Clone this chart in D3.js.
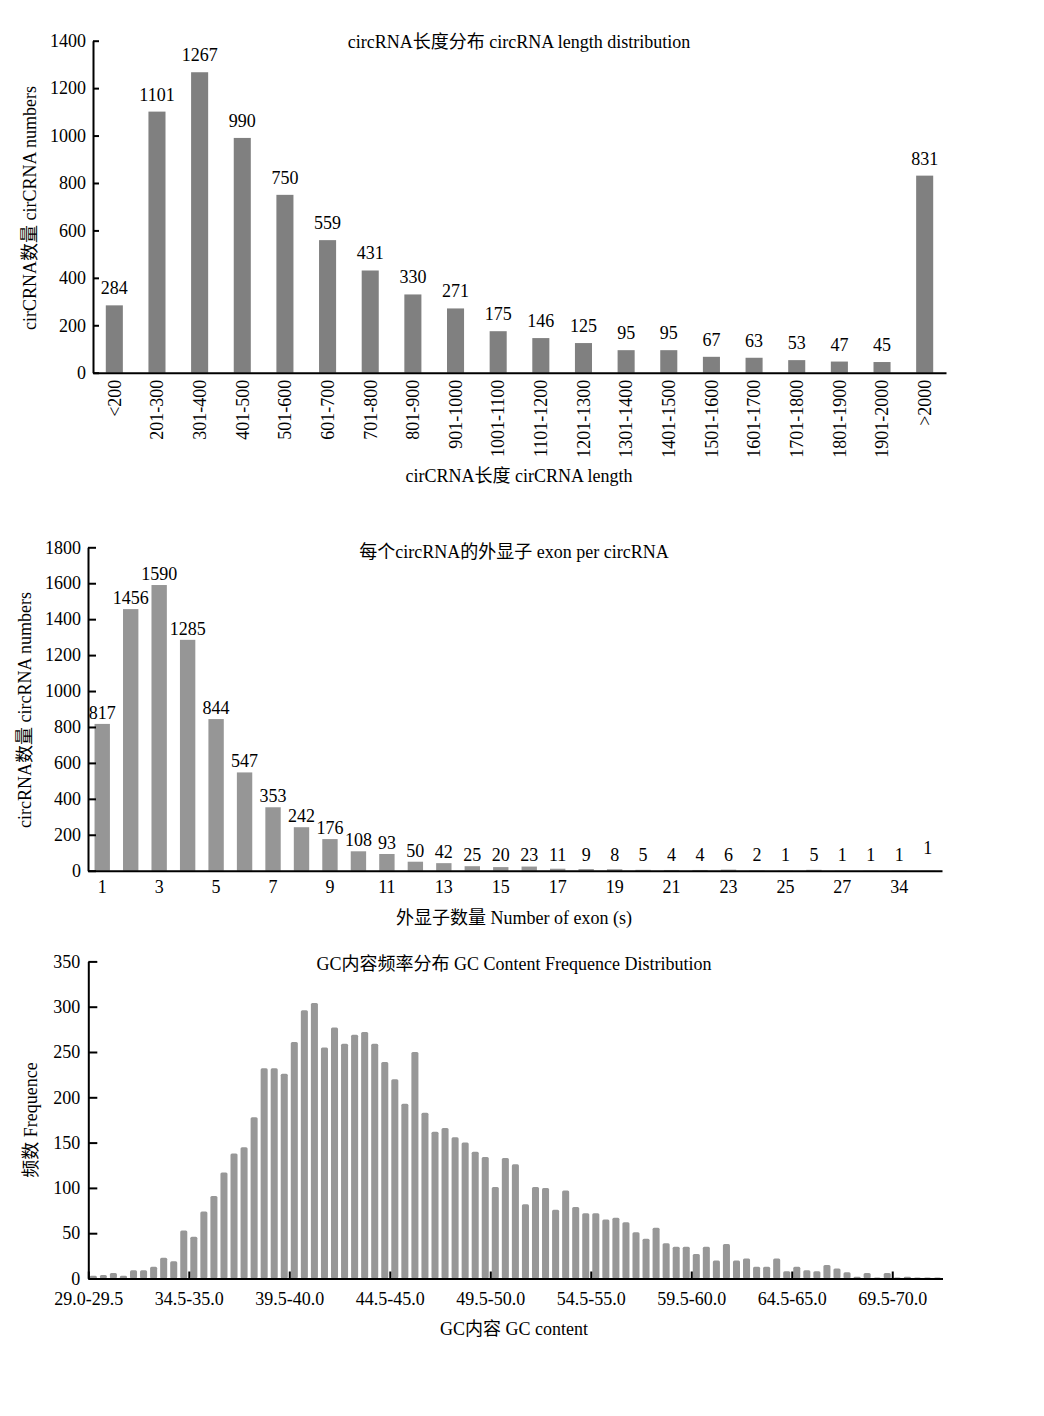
<!DOCTYPE html>
<html><head><meta charset="utf-8">
<script src="https://cdn.jsdelivr.net/npm/d3@7"></script>
<style>
body{margin:0;background:#fff}
text{font-family:"Liberation Serif","Noto Sans CJK SC",serif;fill:#000}
</style>
</head><body>
<svg id="c" width="1044" height="1416"></svg>
<script>
// ---------- data ----------
const lengthCategories = ["<200","201-300","301-400","401-500","501-600","601-700","701-800","801-900","901-1000","1001-1100","1101-1200","1201-1300","1301-1400","1401-1500","1501-1600","1601-1700","1701-1800","1801-1900","1901-2000",">2000"];
const lengthCounts = [284,1101,1267,990,750,559,431,330,271,175,146,125,95,95,67,63,53,47,45,831];
const lengthYTicks = [0,200,400,600,800,1000,1200,1400];

const exonCategories = ["1","2","3","4","5","6","7","8","9","10","11","12","13","14","15","16","17","18","19","20","21","22","23","24","25","26","27","28","34","35"];
const exonCounts = [817,1456,1590,1285,844,547,353,242,176,108,93,50,42,25,20,23,11,9,8,5,4,4,6,2,1,5,1,1,1,1];
const exonYTicks = [0,200,400,600,800,1000,1200,1400,1600,1800];

const gcCounts = [3,4,6,3,9,9,13,23,19,53,
  46,74,91,117,138,145,178,232,232,226,
  261,296,304,255,277,259,269,272,259,239,
  220,193,250,183,162,166,156,150,140,134,
  101,133,126,82,101,100,76,97,79,72,
  72,65,67,62,51,44,56,39,35,35,
  27,35,20,38,20,22,13,13,22,8,
  13,9,8,15,11,7,2,6,1,6,
  1,2,1,1,1];
const gcTickLabels = ["29.0-29.5","34.5-35.0","39.5-40.0","44.5-45.0","49.5-50.0","54.5-55.0","59.5-60.0","64.5-65.0","69.5-70.0"];
const gcYTicks = [0,50,100,150,200,250,300,350];

// ---------- drawing ----------
const svg = d3.select("#c");
svg.append("rect").attr("width",1044).attr("height",1416).attr("fill","#fff");
const FS = 18;

function yAxis(y, x0, ticks, tickLen, pad) {
  const g = svg.append("g").attr("transform", `translate(${x0},0)`)
    .call(d3.axisLeft(y).tickValues(ticks).tickFormat(d3.format("d"))
      .tickSize(-tickLen).tickSizeOuter(0).tickPadding(pad));
  g.select(".domain").attr("stroke","#000").attr("stroke-width",2);
  g.selectAll(".tick line").attr("stroke","#000").attr("stroke-width",2);
  g.selectAll(".tick text").attr("font-size",FS).attr("font-family",null);
  return g;
}
function label(txt, x, y, rot, size) {
  const t = svg.append("text").attr("text-anchor","middle").attr("font-size",size||FS)
    .attr("dominant-baseline","central").text(txt);
  if (rot) t.attr("transform",`translate(${x},${y}) rotate(-90)`);
  else t.attr("x",x).attr("y",y);
  return t;
}

// ===== Chart 1 =====
{
  const x = d3.scaleBand().domain(lengthCategories).range([93,946]).paddingInner(0.6).paddingOuter(0.3);
  const y = d3.scaleLinear().domain([0,1400]).range([372.7,40.7]);
  svg.append("g").selectAll("rect").data(lengthCounts).join("rect")
    .attr("x",(d,i)=>x(lengthCategories[i])).attr("width",x.bandwidth())
    .attr("y",d=>y(d)).attr("height",d=>y(0)-y(d)).attr("fill","#808080");
  svg.append("g").selectAll("text").data(lengthCounts).join("text")
    .attr("x",(d,i)=>x(lengthCategories[i])+x.bandwidth()/2).attr("y",d=>y(d)-11)
    .attr("text-anchor","middle").attr("font-size",FS).text(d=>d);
  yAxis(y, 93, lengthYTicks, 6, 7);
  const gx = svg.append("g").attr("transform",`translate(0,${y(0)})`)
    .call(d3.axisBottom(x).tickSize(0).tickSizeOuter(0));
  gx.select(".domain").attr("stroke","#000").attr("stroke-width",2);
  gx.selectAll(".tick text").attr("font-size",FS).attr("font-family",null)
    .attr("text-anchor","end").attr("transform","translate(0,7) rotate(-90)")
    .attr("x",0).attr("y",0).attr("dy","0.35em");
  label("circRNA长度分布 circRNA length distribution", 519, 42);
  label("cirCRNA数量 cirCRNA numbers", 30, 208, true);
  label("cirCRNA长度 cirCRNA length", 519, 476);
}

// ===== Chart 2 =====
{
  const x = d3.scaleBand().domain(exonCategories).range([88,942]).paddingInner(0.46).paddingOuter(0.23);
  const y = d3.scaleLinear().domain([0,1800]).range([870.7,547.3]);
  svg.append("g").selectAll("rect").data(exonCounts).join("rect")
    .attr("x",(d,i)=>x(exonCategories[i])).attr("width",x.bandwidth())
    .attr("y",d=>y(d)).attr("height",d=>y(0)-y(d)).attr("fill","#969696");
  svg.append("g").selectAll("text").data(exonCounts).join("text")
    .attr("x",(d,i)=>x(exonCategories[i])+x.bandwidth()/2)
    .attr("y",(d,i)=>Math.min(y(d),866)-5-(i===exonCounts.length-1?7:0))
    .attr("text-anchor","middle").attr("font-size",FS).text(d=>d);
  yAxis(y, 88, exonYTicks, 8, 7);
  const gx = svg.append("g").attr("transform",`translate(0,${y(0)})`)
    .call(d3.axisBottom(x).tickSize(0).tickSizeOuter(0).tickPadding(10)
      .tickFormat((d,i)=> i%2===0 && i<exonCategories.length-1 ? d : ""));
  gx.select(".domain").attr("stroke","#000").attr("stroke-width",2);
  gx.selectAll(".tick text").attr("font-size",FS).attr("font-family",null);
  label("每个circRNA的外显子 exon per circRNA", 514, 552);
  label("circRNA数量 circRNA numbers", 25, 710, true);
  label("外显子数量 Number of exon (s)", 514, 918);
}

// ===== Chart 3 =====
{
  const x = d3.scaleLinear().domain([0,85]).range([88.3,942.5]);
  const y = d3.scaleLinear().domain([0,350]).range([1278.5,961.4]);
  const step = x(1)-x(0), bw = step*0.7;
  svg.append("g").selectAll("rect").data(gcCounts).join("rect")
    .attr("x",(d,i)=>x(i+0.5)-bw/2).attr("width",bw)
    .attr("y",d=>y(d)).attr("height",d=>y(0)-y(d)).attr("rx",1.5)
    .attr("fill","#979797");
  yAxis(y, 88.3, gcYTicks, 9, 8);
  const tickIdx = gcTickLabels.map((_,k)=>k*10);
  const gx = svg.append("g").attr("transform",`translate(0,${y(0)})`)
    .call(d3.axisBottom(x).tickValues(tickIdx).tickSize(-7).tickSizeOuter(0).tickPadding(14)
      .tickFormat((d,i)=>gcTickLabels[i]));
  gx.select(".domain").attr("stroke","#000").attr("stroke-width",2);
  gx.selectAll(".tick line").attr("stroke","#000").attr("stroke-width",2);
  gx.selectAll(".tick text").attr("font-size",FS).attr("font-family",null);
  label("GC内容频率分布 GC Content Frequence Distribution", 514, 964);
  label("频数 Frequence", 31, 1120, true);
  label("GC内容 GC content", 514, 1329);
}
</script>
</body></html>
